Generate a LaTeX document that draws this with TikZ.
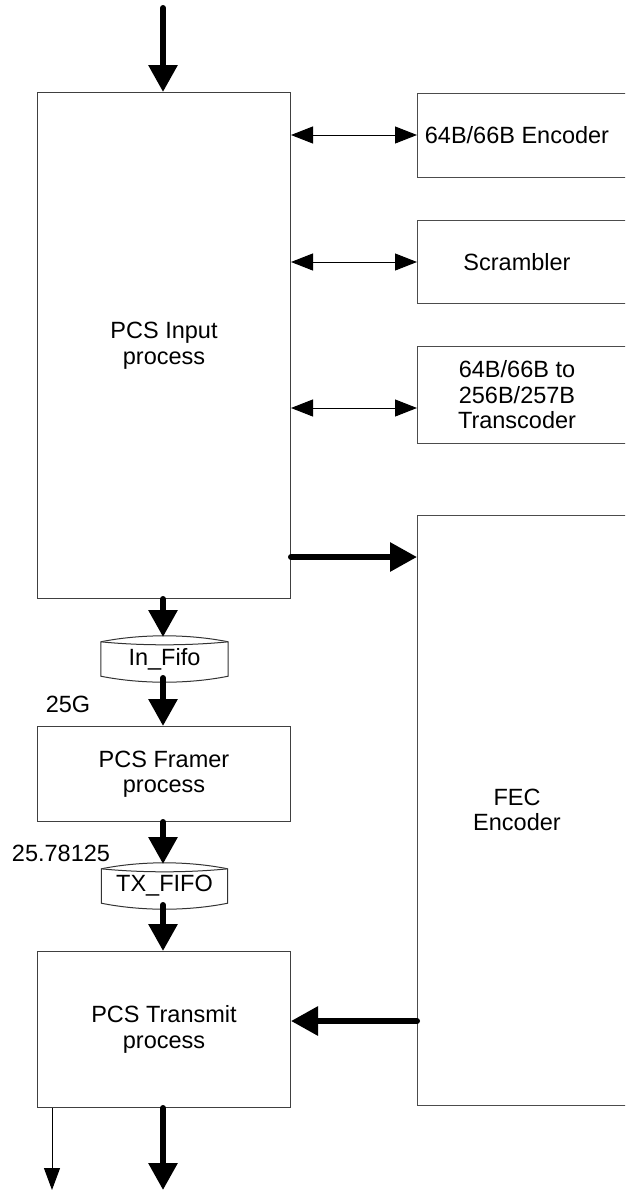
\documentclass[tikz,border=0pt]{standalone}
\usepackage{fontspec}
\setmainfont{Liberation Sans}
\usetikzlibrary{arrows.meta}
\newcommand{\fsz}{\fontsize{23.5}{25.5}\selectfont}
\begin{document}
\begin{tikzpicture}[x=1pt,y=-1pt,
  box/.style={draw=black!75, line width=1pt, fill=white, align=center, font=\fsz, inner sep=0pt},
  rbox/.style={draw=black!70, line width=1pt, fill=white, inner sep=0pt, anchor=north west, minimum width=260},
  txt/.style={align=center, font=\fsz, inner sep=0pt},
  bigarrow/.style={line width=6pt, line cap=round, -{Triangle[length=27pt,width=28pt]}},
  smallarrow/.style={line width=1pt, -{Triangle[length=22pt,width=16pt]}},
  dblarrow/.style={line width=1pt, {Triangle[length=22pt,width=17pt]}-{Triangle[length=22pt,width=17pt]}},
  fifoshape/.style={draw=black!80, line width=1pt, fill=white}
]
\clip (0,0) rectangle (625,1191);
\fill[white] (0,0) rectangle (625,1191);

% main column boxes
\node[box, minimum width=253, minimum height=506, anchor=north west] (inp) at (37,92) {PCS Input\\process};
\node[box, minimum width=253, minimum height=95, anchor=north west] (frm) at (37,726) {PCS Framer\\process};
\node[box, minimum width=253, minimum height=156, anchor=north west] (tx) at (37,951) {PCS Transmit\\process};

% right boxes (cut by the picture's edge)
\node[rbox, minimum height=84] (enc) at (417,93) {};
\node[txt] at (517,135) {64B/66B Encoder};
\node[rbox, minimum height=83] (scr) at (417,220) {};
\node[txt] at (517,262) {Scrambler};
\node[rbox, minimum height=97] (trc) at (417,346) {};
\node[txt] at (517,395) {64B/66B to\\256B/257B\\Transcoder};
\node[rbox, minimum height=590] (fec) at (417,515) {};
\node[txt] at (517,810) {FEC\\Encoder};

% FIFOs
\node[txt, minimum width=127, minimum height=34] (fifoA) at (164.5,659) {};
\draw[fifoshape] (fifoA.north west) .. controls +(40,-8) and +(-40,-8) .. (fifoA.north east)
  -- (fifoA.south east) .. controls +(-40,8) and +(40,8) .. (fifoA.south west) -- cycle;
\draw[fifoshape] (fifoA.north west) .. controls +(40,4) and +(-40,4) .. (fifoA.north east);
\node[txt] at (fifoA.center) {In\_Fifo};

\node[txt, minimum width=126, minimum height=34] (fifoB) at (164.5,886) {};
\draw[fifoshape] (fifoB.north west) .. controls +(40,-8) and +(-40,-8) .. (fifoB.north east)
  -- (fifoB.south east) .. controls +(-40,8) and +(40,8) .. (fifoB.south west) -- cycle;
\draw[fifoshape] (fifoB.north west) .. controls +(40,4) and +(-40,4) .. (fifoB.north east);
\node[txt] at (fifoB.center) {TX\_FIFO};

% labels
\node[txt] at (68,704) {25G};
\node[txt] at (61,853) {25.78125};

% connector end points
\coordinate (topin) at (163,8);
\coordinate (fAtop) at (163,637);
\coordinate (fAbot) at (163,678);
\coordinate (fBtop) at (163,864);
\coordinate (fBbot) at (163,905);
\coordinate (outthin) at (52,1190);
\coordinate (outthick) at (163,1190);

% connectors
\draw[bigarrow] (topin) -- (inp.north -| topin);
\draw[dblarrow] (inp.east |- 0,135) -- (enc.west |- 0,135);
\draw[dblarrow] (inp.east |- 0,262) -- (scr.west |- 0,262);
\draw[dblarrow] (inp.east |- 0,408) -- (trc.west |- 0,408);
\draw[bigarrow] (inp.east |- 0,557) -- (fec.west |- 0,557);
\draw[bigarrow] (inp.south -| topin) -- (fAtop);
\draw[bigarrow] (fAbot) -- (frm.north -| topin);
\draw[bigarrow] (frm.south -| topin) -- (fBtop);
\draw[bigarrow] (fBbot) -- (tx.north -| topin);
\draw[bigarrow] (fec.west |- 0,1021) -- (tx.east |- 0,1021);
\draw[smallarrow] (tx.south -| outthin) -- (outthin);
\draw[bigarrow] (tx.south -| outthick) -- (outthick);
\end{tikzpicture}
\end{document}
